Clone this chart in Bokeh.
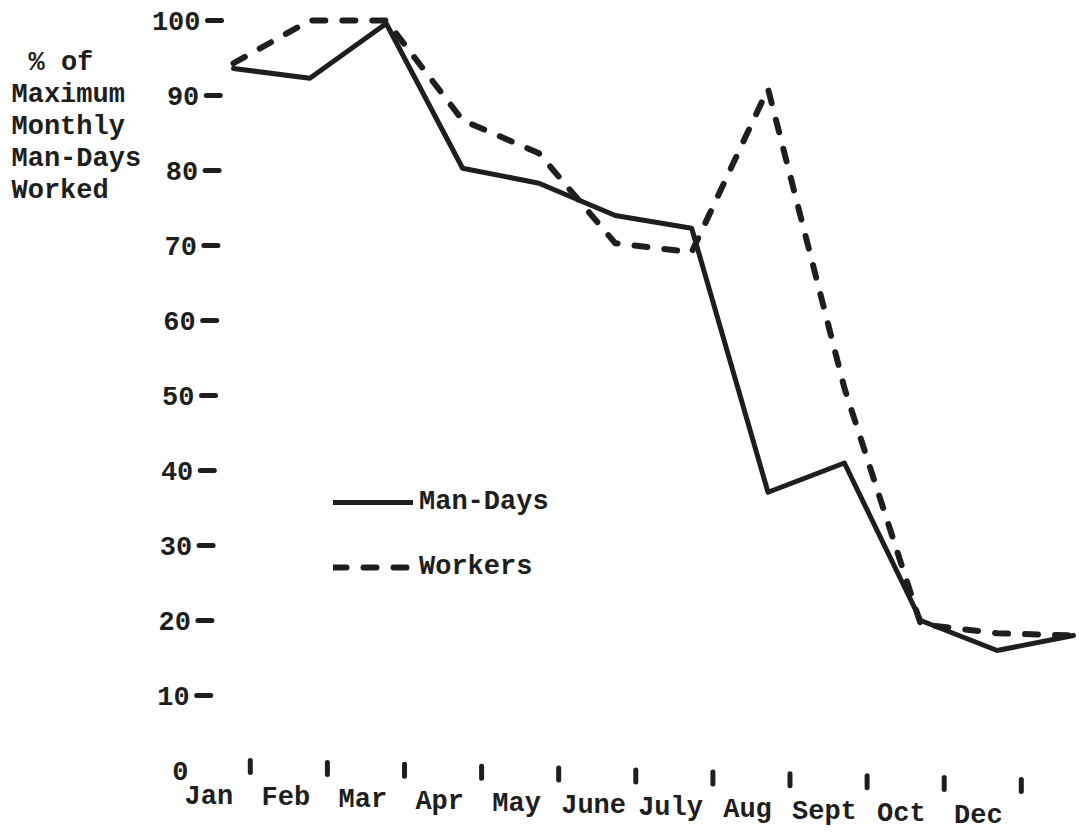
from bokeh.plotting import figure
from bokeh.models import Range1d, Legend, LegendItem, ColumnDataSource
from bokeh.core.properties import value
from bokeh.embed import file_html
from bokeh.resources import INLINE

# ---------------- data ----------------
months = ["Jan", "Feb", "Mar", "Apr", "May", "June", "July", "Aug", "Sept", "Oct", "Nov", "Dec"]
man_days = [93.6, 92.3, 99.6, 80.3, 78.3, 74.0, 72.3, 37.1, 41.0, 20.0, 16.0, 18.0]
workers = [94.3, 100.0, 100.0, 86.7, 82.3, 70.3, 69.1, 90.9, 51.0, 19.5, 18.3, 18.0]
month_tick_labels = ["Jan", "Feb", "Mar", "Apr", "May", "June", "July", "Aug", "Sept", "Oct", "Dec"]
y_ticks = [0, 10, 20, 30, 40, 50, 60, 70, 80, 90, 100]
y_title_lines = ["% of", "Maximum", "Monthly", "Man-Days", "Worked"]

# ---------------- layout helpers (page pixels -> data units) ----------------
W, H = 1082, 834
PAGE = 0                        # Bokeh's page template has no body margin
X0_PX, DX_PX = 233.0, 76.36     # page x of first month, px per month
Y100_PX, DY_PX = 20.0, 7.5      # page y of value 100, px per unit


def xd(px):
    return (px - X0_PX) / DX_PX


def yd(py):
    return 100 - (py - Y100_PX) / DY_PX


FONT = value("Liberation Mono")
FSIZE = "27px"
INK = "#1e1e1e"

p = figure(width=W, height=H, output_backend="svg", toolbar_location=None,
           x_range=Range1d(xd(PAGE), xd(PAGE + W)),
           y_range=Range1d(yd(PAGE + H), yd(PAGE)),
           x_axis_location=None, y_axis_location=None,
           min_border=0, outline_line_color=None)
p.grid.visible = False
p.background_fill_color = "white"
p.border_fill_color = "white"

# ---------------- data lines ----------------
idx = list(range(len(months)))
src = ColumnDataSource(dict(x=idx, month=months, man_days=man_days, workers=workers))
r_md = p.line("x", "man_days", source=src, line_color=INK, line_width=5,
              line_join="round", line_cap="round")
r_wk = p.line("x", "workers", source=src, line_color=INK, line_width=6,
              line_dash="13 17", line_join="round", line_cap="round")

# ---------------- y axis: labels and dash ticks ----------------
lab_right = [188 + 0.12 * v for v in y_ticks]
p.text(x=[xd(r) for r in lab_right], y=y_ticks, text=[str(v) for v in y_ticks],
       text_font=FONT, text_font_size=FSIZE, text_font_style="bold",
       text_color=INK, text_align="right", text_baseline="middle")
tick_vals = [v for v in y_ticks if v > 0]
tick_right = [188 + 0.12 * v for v in tick_vals]
p.segment(x0=[xd(r + 7) for r in tick_right], y0=tick_vals,
          x1=[xd(r + 21) for r in tick_right], y1=tick_vals,
          line_color=INK, line_width=5, line_cap="round")

# ---------------- y title ----------------
p.text(x=[xd(11 + (17 if i == 0 else 0)) for i in range(len(y_title_lines))],
       y=[yd(62 + 32 * i) for i in range(len(y_title_lines))],
       text=y_title_lines, text_font=FONT, text_font_size=FSIZE,
       text_font_style="bold", text_color=INK, text_align="left",
       text_baseline="middle")

# ---------------- x axis: tick marks and month labels ----------------
n = len(month_tick_labels)
tx = [xd(249.8 + 77.1 * i) for i in range(n)]
p.segment(x0=tx, y0=[yd(766 + 1.9 * i - 6) for i in range(n)],
          x1=tx, y1=[yd(766 + 1.9 * i + 6) for i in range(n)],
          line_color=INK, line_width=5, line_cap="round")
p.text(x=[xd(208.4 + 76.94 * i) for i in range(n)],
       y=[yd(796 + 1.9 * i) for i in range(n)],
       text=month_tick_labels, text_font=FONT, text_font_size=FSIZE,
       text_font_style="bold", text_color=INK, text_align="center",
       text_baseline="middle")

# ---------------- legend ----------------
legend = Legend(items=[LegendItem(label="Man-Days", renderers=[r_md]),
                       LegendItem(label="Workers", renderers=[r_wk])],
                location=(333 - PAGE, (PAGE + H) - 582), glyph_width=80,
                glyph_height=30, label_height=30, spacing=35, padding=0,
                margin=0, label_standoff=6, border_line_color=None,
                background_fill_alpha=0,
                label_text_font="Liberation Mono", label_text_font_size=FSIZE,
                label_text_font_style="bold", label_text_color=INK,
                label_text_baseline="middle")
p.add_layout(legend)

open("out.html", "w").write(file_html(p, INLINE))
